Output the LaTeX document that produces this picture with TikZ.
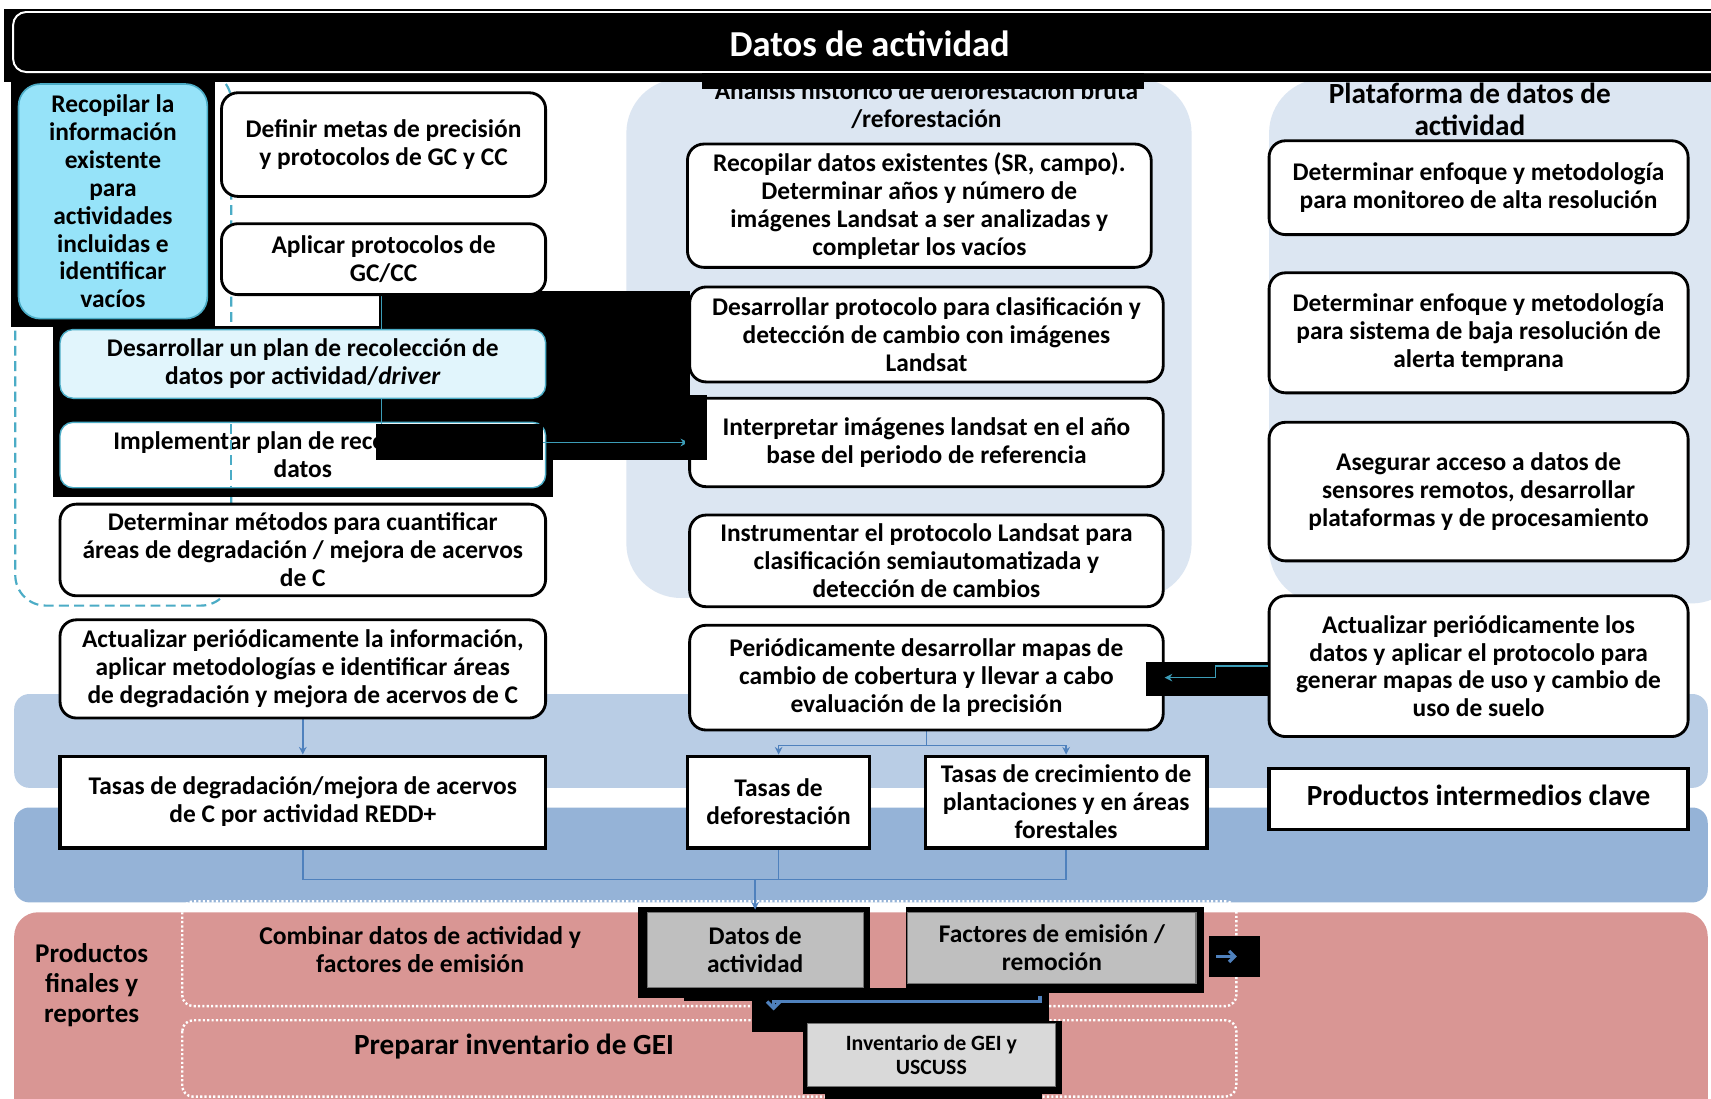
\documentclass[tikz,border=0pt]{standalone}
\usepackage{fontspec}
\setmainfont{Carlito}
\usetikzlibrary{arrows.meta,calc}
\pgfdeclarelayer{bg}\pgfdeclarelayer{blk}\pgfdeclarelayer{conn}\pgfdeclarelayer{ovl}\pgfdeclarelayer{top}
\pgfsetlayers{bg,blk,conn,main,ovl,top}
\definecolor{panel}{HTML}{DCE6F2}
\definecolor{bandA}{HTML}{B9CDE5}
\definecolor{bandB}{HTML}{95B3D7}
\definecolor{pinkb}{HTML}{D99694}
\definecolor{cyb}{HTML}{4BACC6}
\definecolor{cyln}{HTML}{3C9DB8}
\definecolor{cyfill}{HTML}{96E3F9}
\definecolor{cylight}{HTML}{E1F5FC}
\definecolor{lnblue}{HTML}{4F81BD}
\definecolor{gboxA}{HTML}{BFBFBF}
\definecolor{gboxB}{HTML}{D9D9D9}
\newcommand{\bx}[7]{%
  \pgfmathsetmacro{\bw}{#4-#2}\pgfmathsetmacro{\bh}{#5-#3}%
  \pgfmathsetmacro{\bcx}{(#2+#4)/2}\pgfmathsetmacro{\bcy}{(#3+#5)/2}%
  \node[#6, minimum width=\bw pt, minimum height=\bh pt, inner sep=0pt] (#1) at (\bcx,\bcy) {#7};}
\tikzset{
  txt/.style={align=center, font=\fontsize{23.3}{25.6}\selectfont\bfseries},
  rbox/.style={txt, draw=black, line width=2.6pt, rounded corners=15pt, fill=white},
  sbox/.style={txt, draw=black, line width=3pt, fill=white},
  cybox/.style={txt, draw=cyb, line width=1.5pt, rounded corners=20pt, fill=cyfill},
  lcbox/.style={txt, draw=cyb, line width=1.3pt, rounded corners=12pt, fill=cylight},
  wcbox/.style={txt, draw=cyb, line width=1.3pt, rounded corners=12pt, fill=white},
  gbox/.style={txt, draw=black!55, line width=1pt, fill=gboxA},
  gboxl/.style={align=center, font=\fontsize{20}{22}\selectfont\bfseries, draw=black!55, line width=1pt, fill=gboxB},
  bl/.style={draw=lnblue, line width=1.3pt},
  blthick/.style={draw=lnblue, line width=3pt},
  cyl/.style={draw=cyln, line width=1.4pt},
  arr/.style={-{Stealth[length=7pt,width=7pt]}},
  dsh/.style={draw=cyb, line width=2pt, dash pattern=on 9pt off 5pt},
  dot/.style={draw=white, line width=2.2pt, dash pattern=on 2pt off 2pt},
}
\begin{document}
\begin{tikzpicture}[x=1pt,y=-1pt]
\useasboundingbox (0,0) rectangle (1568,1007);
\begin{pgfonlayer}{bg}
  \fill[white] (0,0) rectangle (1568,1007);
  \fill[panel, rounded corners=50pt] (574,72) rectangle (1092,548);
  \fill[panel, rounded corners=50pt] (1163,72) rectangle (1600,553);
  \fill[bandA, rounded corners=14pt] (13,636) rectangle (1565,722);
  \fill[bandB, rounded corners=14pt] (13,740) rectangle (1565,827);
  \fill[pinkb, rounded corners=22pt] (13,836) rectangle (1565,1040);
  \draw[dot, rounded corners=10pt] (167,826) rectangle (1133,922);
  \draw[dot, rounded corners=10pt] (167,935) rectangle (1133,1005);
  \draw[dsh, rounded corners=28pt] (14,65) rectangle (212,555);
\end{pgfonlayer}
\begin{pgfonlayer}{blk}
  % title bar
  \fill[black] (4,8) rectangle (1568,75);
  \draw[white, line width=1.8pt, rounded corners=12pt] (12,11) rectangle (1600,66);
  % artefact blocks
  \fill[black] (10,75) rectangle (197,300);
  \fill[black] (49,299) rectangle (507,380);
  \fill[black] (49,380) rectangle (507,455);
  \fill[black] (347,267) rectangle (632,422);
  \fill[black] (585,831) rectangle (797,915);
  \fill[black] (830,831) rectangle (1103,910);
  \fill[black] (627,905) rectangle (961,917);
  \fill[black] (689,905) rectangle (961,946);
  \fill[black] (736,936) rectangle (973,1003);
  \fill[black] (756,996) rectangle (955,1010);
  \bx{n5}{55}{387}{500}{447}{wcbox}{Implementar plan de recolección de\\datos}
  \draw[dsh] (212,389) -- (212,446);
\end{pgfonlayer}
\node[text=white, font=\fontsize{33.5}{36}\selectfont\bfseries] (title) at (797,40) {Datos de actividad};
% left column
\bx{n1}{17}{77}{190}{292}{cybox}{Recopilar la\\información\\existente\\para\\actividades\\incluidas e\\identificar\\vacíos}
\bx{n2}{203}{85}{500}{180}{rbox}{Definir metas de precisión\\y protocolos de GC y CC}
\bx{n3}{203}{205}{500}{270}{rbox}{Aplicar protocolos de\\GC/CC}
\bx{n4}{55}{302}{500}{365}{lcbox}{Desarrollar un plan de recolección de\\datos por actividad/\textit{driver}}
\bx{n6}{55}{462}{500}{546}{rbox}{Determinar métodos para cuantificar\\áreas de degradación / mejora de acervos\\de C}
\bx{n7}{55}{568}{500}{658}{rbox}{Actualizar periódicamente la información,\\aplicar metodologías e identificar áreas\\de degradación y mejora de acervos de C}
\bx{n8}{55}{693}{500}{777}{sbox}{Tasas de degradación/mejora de acervos\\de C por actividad REDD+}
% middle column
\node[txt] (hdrM) at (849,96) {Análisis histórico de deforestación bruta\\/reforestación};
\bx{m1}{630}{132}{1055}{245}{rbox}{Recopilar datos existentes (SR, campo).\\Determinar años y número de\\imágenes Landsat a ser analizadas y\\completar los vacíos}
\bx{m2}{632}{263}{1066}{350}{rbox}{Desarrollar protocolo para clasificación y\\detección de cambio con imágenes\\Landsat}
\bx{m3}{632}{365}{1066}{446}{rbox}{Interpretar imágenes landsat en el año\\base del periodo de referencia}
\bx{m4}{632}{472}{1066}{556}{rbox}{Instrumentar el protocolo Landsat para\\clasificación semiautomatizada y\\detección de cambios}
\bx{m5}{632}{573}{1066}{669}{rbox}{Periódicamente desarrollar mapas de\\cambio de cobertura y llevar a cabo\\evaluación de la precisión}
\bx{m6}{630}{693}{797}{777}{sbox}{Tasas de\\deforestación}
\bx{m7}{848}{693}{1106}{777}{sbox}{Tasas de crecimiento de\\plantaciones y en áreas\\forestales}
% right column
\node[align=center, font=\fontsize{26.8}{29}\selectfont\bfseries] (hdrR) at (1347,100) {Plataforma de datos de\\actividad};
\bx{r1}{1163}{129}{1547}{215}{rbox}{Determinar enfoque y metodología\\para monitoreo de alta resolución}
\bx{r2}{1163}{250}{1547}{360}{rbox}{Determinar enfoque y metodología\\para sistema de baja resolución de\\alerta temprana}
\bx{r3}{1163}{387}{1547}{514}{rbox}{Asegurar acceso a datos de\\sensores remotos, desarrollar\\plataformas y de procesamiento}
\bx{r4}{1163}{546}{1547}{675}{rbox}{Actualizar periódicamente los\\datos y aplicar el protocolo para\\generar mapas de uso y cambio de\\uso de suelo}
\bx{r5}{1163}{704}{1547}{760}{sbox, font=\fontsize{26.8}{30}\selectfont\bfseries}{\raisebox{6pt}{Productos intermedios clave}}
% bottom
\node[align=center, font=\fontsize{24.8}{27.5}\selectfont\bfseries] (prodF) at (84,903) {Productos\\finales y\\reportes};
\node[align=center, font=\fontsize{23.5}{25.5}\selectfont\bfseries] (comb) at (385,870) {Combinar datos de actividad y\\factores de emisión};
\node[font=\fontsize{26.8}{30}\selectfont\bfseries] (prep) at (471,959) {Preparar inventario de GEI};
\bx{b1}{593}{836}{791}{905}{gbox}{Datos de\\actividad}
\bx{b2}{832}{836}{1096}{901}{gbox}{Factores de emisión /\\remoción}
\bx{b3}{740}{938}{967}{996}{gboxl}{Inventario de GEI y\\USCUSS}
\bx{sq}{1108}{858}{1155}{895}{fill=black}{}
% connectors under nodes
\begin{pgfonlayer}{conn}
  \draw[cyl, arr] ([xshift=-2pt]n3.south) |- (m3.west);
  \coordinate (ja) at (0,683);
  \coordinate (jb) at (0,806);
  \draw[bl, arr] (n7.south) -- (n8.north);
  \draw[bl] (m5.south) -- (m5.south |- ja);
  \draw[bl, arr] (m5.south |- ja) -| (m6.north);
  \draw[bl, arr] (m5.south |- ja) -| (m7.north);
  \draw[bl] (n8.south) |- (m7.south |- jb) -- (m7.south);
  \draw[bl] (m6.south) -- (m6.south |- jb);
  \draw[bl, arr] (b1.north |- jb) -- ([yshift=2pt]b1.north);
\end{pgfonlayer}
\begin{pgfonlayer}{ovl}
  \fill[black] (345,389) rectangle (498,422);
  \fill[black] (628,362) rectangle (648,422);
  \fill[black] (1050,607) rectangle (1162,638);
  \fill[black] (643,67) rectangle (1048,82);
\end{pgfonlayer}
\begin{pgfonlayer}{top}
  \draw[cyl, arr] (r4.west) -- ++(-48,0) |- (m5.east);
  \coordinate (tipA) at (709,926);
  \draw[blthick, -{Straight Barb[length=6pt,width=12pt]}] ([xshift=-11pt,yshift=-11pt]b2.south) |- ($(tipA)+(0,-8)$) -- (tipA);
  \draw[blthick, -{Straight Barb[length=5pt,width=10pt]}] ([xshift=-17pt]sq.center) -- ([xshift=2pt]sq.center);
\end{pgfonlayer}
\end{tikzpicture}
\end{document}
